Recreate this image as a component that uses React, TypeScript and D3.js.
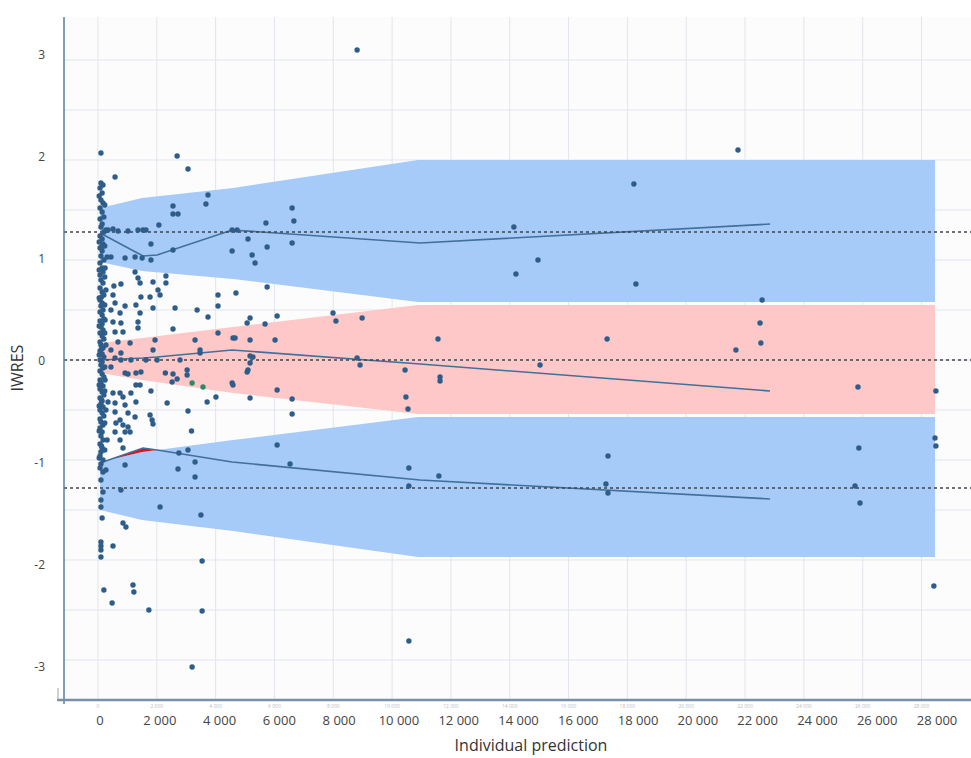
import React from 'react';
import * as d3 from 'd3';

const W = 971;
const H = 758;

// axis ticks
const xTickValues = [0, 2000, 4000, 6000, 8000, 10000, 12000, 14000, 16000, 18000, 20000, 22000, 24000, 26000, 28000];
const xTickLabels = ['0', '2 000', '4 000', '6 000', '8 000', '10 000', '12 000', '14 000', '16 000', '18 000', '20 000', '22 000', '24 000', '26 000', '28 000'];
const yTickValues = [3, 2, 1, 0, -1, -2, -3];
const yTickLabels = ['3', '2', '1', '0', '-1', '-2', '-3'];
const yGridValues = [3, 2.5, 2, 1.5, 1, 0.5, 0, -0.5, -1, -1.5, -2, -2.5, -3];

// prediction intervals (bins)
const bandBins = [70, 1500, 4590, 10880, 28460];
const upperBandHi = [1.52, 1.62, 1.72, 2.0, 2.0];
const upperBandLo = [0.98, 0.89, 0.81, 0.58, 0.58];
const midBandHi = [0.17, 0.22, 0.33, 0.55, 0.55];
const midBandLo = [-0.13, -0.2, -0.33, -0.54, -0.54];
const lowerBandHi = [-1.02, -0.92, -0.8, -0.57, -0.57];
const lowerBandLo = [-1.5, -1.6, -1.71, -1.97, -1.97];

// observed percentiles
const obsBins = [70, 1530, 2010, 4560, 10950, 22850];
const obsHigh = [1.27, 1.04, 1.05, 1.3, 1.17, 1.36];
const obsMid = [0.0, 0.02, 0.03, 0.1, -0.04, -0.31];
const obsLow = [-1.03, -0.88, -0.9, -1.02, -1.2, -1.39];

// theoretical percentiles
const refLevels = [1.28, 0, -1.28];

// observations [individual prediction, IWRES]
const points: [number, number][] = [
  [100, 2.07], [100, 1.77], [170, 1.75], [70, 1.72], [140, 1.67], [100, 1.6], [170, 1.57], [70, 1.52],
  [140, 1.48], [200, 1.43], [70, 1.41], [140, 1.36], [100, 1.33], [200, 1.28], [70, 1.24], [140, 1.21],
  [170, 1.16], [70, 1.12], [140, 1.09], [100, 1.04], [200, 1.0], [70, 0.97], [140, 0.92], [170, 0.88],
  [70, 0.85], [100, 0.8], [170, 0.77], [70, 0.72], [140, 0.68], [200, 0.65], [70, 0.6], [140, 0.57],
  [100, 0.54], [170, 0.5], [70, 0.48], [140, 0.45], [200, 0.41], [70, 0.39], [140, 0.36], [100, 0.33],
  [170, 0.3], [70, 0.27], [140, 0.24], [200, 0.21], [70, 0.18], [100, 0.15], [170, 0.12], [70, 0.09],
  [140, 0.06], [200, 0.03], [70, 0.0], [140, -0.02], [100, -0.05], [170, -0.08], [70, -0.11], [140, -0.14],
  [200, -0.17], [70, -0.2], [100, -0.23], [170, -0.26], [70, -0.29], [140, -0.32], [200, -0.35], [70, -0.38],
  [140, -0.41], [100, -0.44], [170, -0.47], [70, -0.5], [140, -0.53], [200, -0.56], [70, -0.59], [100, -0.62],
  [170, -0.65], [70, -0.68], [140, -0.72], [100, -0.76], [170, -0.8], [70, -0.84], [140, -0.88], [100, -0.92],
  [70, -0.96], [170, -1.0], [100, -1.04], [70, -1.08], [170, -1.12], [100, -1.2], [170, -1.32], [100, -1.4],
  [100, -1.47], [140, -1.58], [100, -1.82], [100, -1.86], [100, -1.9], [100, -1.97],
  [40, 1.64], [40, 1.18], [40, 0.9], [40, 0.62], [40, 0.34], [40, 0.05], [40, -0.25], [40, -0.46],
  [40, -0.71], [40, -0.98], [230, 1.55], [230, 1.14], [230, 0.83], [230, 0.55], [230, 0.27], [230, -0.07],
  [230, -0.31], [230, -0.63], [230, -0.9], [120, 1.13], [120, 0.63], [120, 0.11], [120, -0.4], [120, -0.86],
  [270, 1.3], [310, 1.03], [240, 0.92], [270, 0.7], [240, 0.4], [270, 0.15], [240, -0.2], [270, -0.5],
  [310, -0.8], [200, -2.3], [270, -1.1],
  [580, 1.83], [340, 1.3], [510, 1.31], [680, 1.29], [1020, 1.29], [1360, 1.3], [1530, 1.3], [1630, 1.3],
  [1800, 1.16], [440, 1.03], [920, 1.02], [1260, 1.03], [1500, 1.02], [1800, 1.0], [1260, 0.88], [1360, 0.82],
  [1430, 0.77], [1870, 0.78], [540, 0.74], [780, 0.76], [510, 0.65], [1460, 0.63], [1770, 0.63], [580, 0.57],
  [920, 0.54], [1290, 0.55], [440, 0.5], [750, 0.47], [1430, 0.47], [510, 0.38], [780, 0.37], [1360, 0.38],
  [1360, 0.32], [580, 0.28], [850, 0.28], [680, 0.18], [1090, 0.17], [440, 0.1], [780, 0.07], [1870, 0.1],
  [580, 0.02], [780, 0.0], [1120, 0.0], [1630, 0.0], [440, -0.07], [920, -0.13], [1290, -0.13], [1020, -0.14],
  [1460, -0.12], [1290, -0.25], [1430, -0.25], [1800, -0.31], [510, -0.33], [750, -0.33], [850, -0.37],
  [1120, -0.33], [340, -0.42], [580, -0.43], [920, -0.45], [1290, -0.42], [580, -0.52], [1020, -0.53],
  [1770, -0.55], [1840, -0.6], [1870, -0.64], [750, -0.6], [1260, -0.57], [610, -0.63], [850, -0.65],
  [1020, -0.67], [920, -0.72], [580, -0.72], [1090, -0.72], [750, -0.8], [850, -0.88], [920, -1.05],
  [780, -1.3], [850, -1.63], [950, -1.67], [510, -1.86], [1190, -2.25], [1220, -2.32], [480, -2.43], [1730, -2.5],
  [2690, 2.04], [3060, 1.91], [3740, 1.65], [3670, 1.56], [2550, 1.54], [2550, 1.46], [2720, 1.46], [2070, 1.35],
  [5710, 1.37], [4560, 1.3], [4730, 1.3], [5100, 1.21], [5750, 1.13], [2550, 1.1], [4560, 1.09], [5240, 1.05],
  [5340, 0.97], [6600, 1.52], [6660, 1.39], [6600, 1.17], [2310, 0.84], [5750, 0.73], [2310, 0.77], [2040, 0.7],
  [2110, 0.65], [4080, 0.65], [4690, 0.67], [4080, 0.54], [3370, 0.5], [2620, 0.52], [1870, 0.52], [6090, 0.44],
  [3740, 0.43], [5070, 0.37], [5170, 0.42], [2550, 0.31], [4080, 0.27], [5680, 0.36], [4590, 0.22], [4660, 0.22],
  [1940, 0.2], [3300, 0.2], [5170, 0.2], [6020, 0.2], [3470, 0.1], [3470, 0.07], [2010, 0.0], [2790, 0.0],
  [5170, 0.04], [5270, 0.03], [5100, -0.1], [5170, -0.03], [2290, -0.13], [2550, -0.14], [3030, -0.1],
  [3030, -0.15], [2520, -0.22], [2690, -0.19], [4560, -0.23], [4590, -0.25], [5070, -0.12],
  [2350, -0.43], [3060, -0.51], [3710, -0.42], [4010, -0.37], [5170, -0.38], [6090, -0.3], [3180, -0.71],
  [3060, -0.9], [2750, -0.93], [3300, -1.02], [2720, -1.09], [3300, -1.17], [6090, -0.85], [2110, -1.47],
  [3500, -1.55], [3540, -2.01], [3540, -2.51], [3200, -3.07],
  [7990, 0.47], [8090, 0.39], [8980, 0.42], [8810, 0.02], [8910, -0.05], [10440, -0.1], [10470, -0.37],
  [10540, -0.49], [11560, 0.21], [11630, -0.17], [11630, -0.21], [6600, -0.39], [6600, -0.54], [6530, -1.04],
  [10570, -1.08], [10570, -1.26], [11590, -1.16], [10570, -2.81], [8810, 3.1],
  [14140, 1.33], [14960, 1.0], [14210, 0.86], [15030, -0.05], [17340, -0.96], [17270, -1.24], [17340, -1.33],
  [17310, 0.21], [18220, 1.76], [18290, 0.76], [21760, 2.1], [22580, 0.6], [22510, 0.37], [22540, 0.17],
  [21690, 0.1], [25840, -0.27], [25870, -0.88], [25740, -1.26], [25910, -1.43], [28490, -0.31], [28460, -0.78],
  [28490, -0.86], [28420, -2.26],
];
const greenPoints: [number, number][] = [[3200, -0.23], [3570, -0.27]];

const plot = { left: 64, right: 971, top: 17, bottom: 700 };

const x = d3.scaleLinear().domain([0, 28000]).range([98, 921.5]);
const y = d3.scaleLinear().domain([-3, 3]).range([660, 60]);
// overlaid tick labels sit slightly off the grid in the original figure
const xLabel = d3.scaleLinear().domain([0, 28000]).range([100, 937]);
const yLabel = d3.scaleLinear().domain([-3, 3]).range([667, 55]);

const bandArea = (hi: number[], lo: number[]) =>
  d3.area<number>()
    .x((d) => x(d))
    .y0((_, i) => y(lo[i]))
    .y1((_, i) => y(hi[i]))(bandBins) || '';

const obsLine = (vals: number[]) =>
  d3.line<number>()
    .x((d) => x(d))
    .y((_, i) => y(vals[i]))(obsBins) || '';

// red zone where the observed lower percentile leaves the interval
const lowTop = d3.scaleLinear().domain(bandBins).range(lowerBandHi);
const lowObs = d3.scaleLinear().domain(obsBins).range(obsLow);
const redXs = d3.range(obsBins[0], obsBins[3], 10);
const redArea = d3.area<number>()
  .defined((d) => lowObs(d) >= lowTop(d))
  .x((d) => x(d))
  .y0((d) => y(lowTop(d)))
  .y1((d) => y(lowObs(d)))(redXs) || '';

const font = '"Open Sans", "Segoe UI", sans-serif';

export default function App() {
  return (
    <svg width={W} height={H} style={{ position: 'absolute', left: 0, top: 0, background: '#fff' }} fontFamily={font}>
      <rect x={plot.left} y={plot.top} width={plot.right - plot.left} height={plot.bottom - plot.top} fill="#fcfcfd" />
      {xTickValues.map((v) => (
        <line key={'gx' + v} x1={x(v)} x2={x(v)} y1={plot.top} y2={plot.bottom} stroke="#e2e5ec" strokeWidth={1} />
      ))}
      {yGridValues.map((v) => (
        <line key={'gy' + v} x1={plot.left} x2={plot.right} y1={y(v)} y2={y(v)} stroke="#e2e5ec" strokeWidth={1} />
      ))}

      <path d={bandArea(upperBandHi, upperBandLo)} fill="#a7cbf8" />
      <path d={bandArea(midBandHi, midBandLo)} fill="#fdc8c7" />
      <path d={bandArea(lowerBandHi, lowerBandLo)} fill="#a7cbf8" />
      <path d={redArea} fill="#d8141c" />

      {[obsHigh, obsMid, obsLow].map((vals, i) => (
        <path key={'obs' + i} d={obsLine(vals)} fill="none" stroke="#426f9b" strokeWidth={1.6} />
      ))}

      {refLevels.map((v) => (
        <line key={'ref' + v} x1={plot.left} x2={plot.right} y1={y(v)} y2={y(v)} stroke="#3f444c" strokeWidth={1.5} strokeDasharray="3,3" />
      ))}

      {points.map(([px, py], i) => (
        <circle key={'p' + i} cx={x(px)} cy={y(py)} r={2.7} fill="#2e5d8a" />
      ))}
      {greenPoints.map(([px, py], i) => (
        <circle key={'g' + i} cx={x(px)} cy={y(py)} r={2.7} fill="#2f8a6a" />
      ))}

      {/* axes */}
      <line x1={plot.left} x2={plot.left} y1={plot.top} y2={plot.bottom + 4} stroke="#5a7ca5" strokeWidth={1.5} />
      <line x1={57} x2={plot.right} y1={plot.bottom} y2={plot.bottom} stroke="#7a8fab" strokeWidth={2.5} />
      <line x1={58} x2={58} y1={688} y2={plot.bottom} stroke="#9aa3b0" strokeWidth={1} />

      {/* faint original tick labels */}
      {xTickValues.map((v, i) => (
        <text key={'fx' + v} x={x(v)} y={708} fontSize={5} fill="#b8bec8" textAnchor="middle">{xTickLabels[i]}</text>
      ))}

      {xTickValues.map((v, i) => (
        <text key={'lx' + v} x={xLabel(v)} y={725} fontSize={13} fill="#444" textAnchor="middle">{xTickLabels[i]}</text>
      ))}
      {yTickValues.map((v, i) => (
        <text key={'ly' + v} x={45} y={yLabel(v)} dy="0.35em" fontSize={12} fill="#444" textAnchor="end">{yTickLabels[i]}</text>
      ))}

      <text x={531} y={751} fontSize={16} fill="#333" textAnchor="middle">Individual prediction</text>
      <text transform="translate(23,368) rotate(-90)" fontSize={16} fill="#333" textAnchor="middle">IWRES</text>
    </svg>
  );
}
